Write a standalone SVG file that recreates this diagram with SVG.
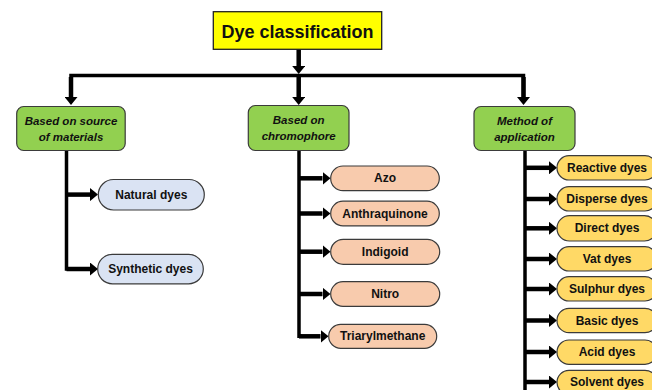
<svg xmlns="http://www.w3.org/2000/svg" width="652" height="390" viewBox="0 0 652 390">
  <style>
    .title { fill: #FFFF00; stroke: #222; stroke-width: 1.3; }
    .cat { fill: #92D050; stroke: #3b3b3b; stroke-width: 1.2; }
    .blue { fill: #DAE3F3; stroke: #3b3b3b; stroke-width: 1.2; }
    .peach { fill: #F8CBAD; stroke: #3b3b3b; stroke-width: 1.2; }
    .gold { fill: #FFD966; stroke: #3b3b3b; stroke-width: 1.2; }
    text { font-family: "Liberation Sans", Arial, sans-serif; font-weight: bold; fill: #111; text-anchor: middle; dominant-baseline: central; }
    .t-title { font-size: 18px; }
    .t-cat { font-size: 11.5px; font-style: italic; }
    .t-leaf { font-size: 12px; }
    .trunk { stroke: #000; stroke-width: 3.5; fill: none; }
    .arr { stroke: #000; stroke-width: 4.5; fill: none; marker-end: url(#ah); }
  </style>
  <defs>
    <marker id="ah" markerUnits="userSpaceOnUse" markerWidth="8" markerHeight="13" refX="0" refY="6.5" orient="auto" viewBox="0 0 8 13">
      <path d="M0,0 L8,6.5 L0,13 Z" fill="#000"/>
    </marker>
  </defs>

  <g id="connectors">
    <!-- top -->
    <line class="arr" x1="298.7" y1="49.5" x2="298.7" y2="66"/>
    <polyline class="trunk" points="71,97 71,75.5 523.5,75.5 523.5,97"/>
    <line class="arr" x1="71" y1="77" x2="71" y2="97"/>
    <line class="arr" x1="298.7" y1="74" x2="298.7" y2="97"/>
    <line class="arr" x1="523.5" y1="77" x2="523.5" y2="97"/>
    <!-- left column -->
    <polyline class="trunk" points="66.5,151 66.5,269 70,269"/>
    <line class="arr" x1="66.5" y1="194.6" x2="90" y2="194.6"/>
    <line class="arr" x1="66.5" y1="269" x2="90" y2="269"/>
    <!-- middle column -->
    <polyline class="trunk" points="299,150.5 299,336.3 302,336.3"/>
    <line class="arr" x1="299" y1="178.3" x2="322.5" y2="178.3"/>
    <line class="arr" x1="299" y1="213.5" x2="322.5" y2="213.5"/>
    <line class="arr" x1="299" y1="251.7" x2="322.5" y2="251.7"/>
    <line class="arr" x1="299" y1="294" x2="322.5" y2="294"/>
    <line class="arr" x1="299" y1="336.3" x2="320.5" y2="336.3"/>
    <!-- right column -->
    <line class="trunk" x1="525" y1="150.5" x2="525" y2="390"/>
    <line class="arr" x1="525" y1="167.8" x2="549" y2="167.8"/>
    <line class="arr" x1="525" y1="199" x2="549" y2="199"/>
    <line class="arr" x1="525" y1="228.3" x2="549" y2="228.3"/>
    <line class="arr" x1="525" y1="259" x2="549" y2="259"/>
    <line class="arr" x1="525" y1="289" x2="549" y2="289"/>
    <line class="arr" x1="525" y1="320.5" x2="549" y2="320.5"/>
    <line class="arr" x1="525" y1="352" x2="549" y2="352"/>
    <line class="arr" x1="525" y1="382" x2="549" y2="382"/>
  </g>

  <g id="dye-classification">
    <rect class="title" x="213.3" y="11.7" width="168.4" height="37.6"/>
    <text class="t-title" x="297.5" y="31.5">Dye classification</text>
  </g>

  <g id="source">
    <rect class="cat" x="16.7" y="106.5" width="108.5" height="44" rx="7"/>
    <text class="t-cat" x="71" y="120.5">Based on source</text>
    <text class="t-cat" x="71" y="137">of materials</text>
  </g>
  <g id="chromophore">
    <rect class="cat" x="248.3" y="105.5" width="100.7" height="45" rx="7"/>
    <text class="t-cat" x="298.7" y="120">Based on</text>
    <text class="t-cat" x="298.7" y="136">chromophore</text>
  </g>
  <g id="application">
    <rect class="cat" x="474" y="106.5" width="101" height="44" rx="7"/>
    <text class="t-cat" x="524.5" y="120.5">Method of</text>
    <text class="t-cat" x="524.5" y="136.5">application</text>
  </g>

  <g id="natural-dyes">
    <rect class="blue" x="98.3" y="179.5" width="106" height="30.5" rx="15.2"/>
    <text class="t-leaf" x="151.3" y="194.8">Natural dyes</text>
  </g>
  <g id="synthetic-dyes">
    <rect class="blue" x="97.7" y="254.3" width="105.6" height="29.5" rx="14.7"/>
    <text class="t-leaf" x="150.5" y="269">Synthetic dyes</text>
  </g>

  <g id="azo">
    <rect class="peach" x="330.7" y="166" width="108.6" height="24.7" rx="12.3"/>
    <text class="t-leaf" x="385" y="178.3">Azo</text>
  </g>
  <g id="anthraquinone">
    <rect class="peach" x="330.7" y="201.2" width="108.6" height="24.7" rx="12.3"/>
    <text class="t-leaf" x="385" y="213.5">Anthraquinone</text>
  </g>
  <g id="indigoid">
    <rect class="peach" x="330.7" y="239.3" width="109" height="25" rx="12.5"/>
    <text class="t-leaf" x="385.2" y="251.7">Indigoid</text>
  </g>
  <g id="nitro">
    <rect class="peach" x="330.7" y="281.7" width="109" height="24.7" rx="12.3"/>
    <text class="t-leaf" x="385.2" y="294">Nitro</text>
  </g>
  <g id="triarylmethane">
    <rect class="peach" x="328.7" y="324.3" width="108" height="24" rx="12"/>
    <text class="t-leaf" x="382.7" y="336.3">Triarylmethane</text>
  </g>

  <g id="reactive-dyes">
    <rect class="gold" x="557" y="155.7" width="100" height="24.3" rx="12"/>
    <text class="t-leaf" x="607" y="167.8">Reactive dyes</text>
  </g>
  <g id="disperse-dyes">
    <rect class="gold" x="557" y="186.7" width="100" height="24.3" rx="12"/>
    <text class="t-leaf" x="607" y="199">Disperse dyes</text>
  </g>
  <g id="direct-dyes">
    <rect class="gold" x="557" y="215.7" width="100" height="25.3" rx="12.5"/>
    <text class="t-leaf" x="607" y="228.3">Direct dyes</text>
  </g>
  <g id="vat-dyes">
    <rect class="gold" x="557" y="246.7" width="100" height="24.3" rx="12"/>
    <text class="t-leaf" x="607" y="259">Vat dyes</text>
  </g>
  <g id="sulphur-dyes">
    <rect class="gold" x="557" y="276.7" width="100" height="24.3" rx="12"/>
    <text class="t-leaf" x="607" y="289">Sulphur dyes</text>
  </g>
  <g id="basic-dyes">
    <rect class="gold" x="557" y="308.3" width="100" height="24.4" rx="12"/>
    <text class="t-leaf" x="607" y="320.5">Basic dyes</text>
  </g>
  <g id="acid-dyes">
    <rect class="gold" x="557" y="340" width="100" height="24.3" rx="12"/>
    <text class="t-leaf" x="607" y="352">Acid dyes</text>
  </g>
  <g id="solvent-dyes">
    <rect class="gold" x="557" y="370.3" width="100" height="24.3" rx="12"/>
    <text class="t-leaf" x="607" y="382.3">Solvent dyes</text>
  </g>
</svg>
